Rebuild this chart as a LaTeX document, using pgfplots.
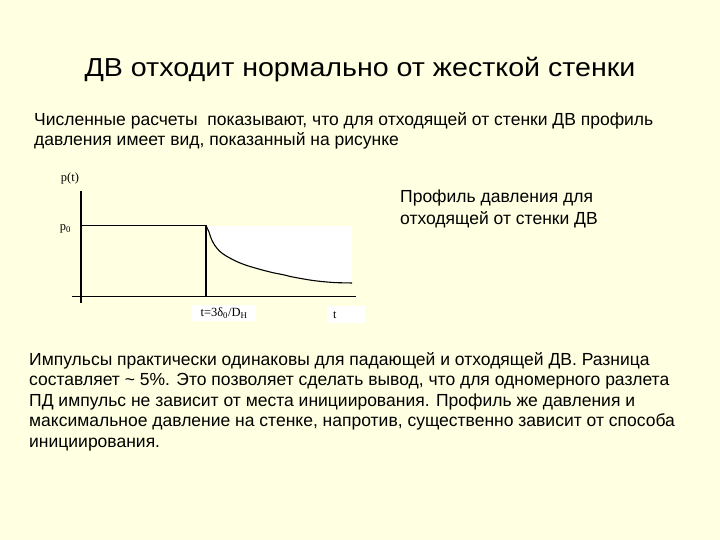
\documentclass[border=0pt]{standalone}
\usepackage{fontspec}
\setmainfont{Liberation Sans}
\newfontfamily\titlefont[FakeStretch=1.1]{Liberation Sans}
\newfontfamily\tnr{Liberation Serif}
\usepackage{pgfplots}
\usepackage{pgfplotstable}
\pgfplotsset{compat=1.18}
\definecolor{slide}{RGB}{255,255,225}

% decaying pressure after the step (t in units of 3*delta/D_H, p in units of p0)
\pgfplotstableread{
t      p
1.000  1.000
1.024  0.911
1.042  0.816
1.070  0.723
1.110  0.638
1.162  0.572
1.242  0.497
1.322  0.441
1.430  0.384
1.536  0.336
1.616  0.308
1.696  0.275
1.856  0.226
2.016  0.198
2.168  0.191
}\decay

\begin{document}
\begin{tikzpicture}
\fill[slide] (0,0) rectangle (720bp,540bp);

% slide text
\node[anchor=base, inner sep=0] at (360bp,463bp)
  {\titlefont\fontsize{26bp}{30bp}\selectfont ДВ отходит нормально от жесткой стенки};
\begin{scope}[every node/.style={anchor=base west, inner sep=0, font=\fontsize{17.5bp}{21bp}\selectfont}]
\node at (34bp,414.3bp) {Численные расчеты \ показывают, что для отходящей от стенки ДВ профиль};
\node at (34bp,394.5bp) {давления имеет вид, показанный на рисунке};
\node at (400bp,337bp) {Профиль давления для};
\node at (400bp,315bp) {отходящей от стенки ДВ};
\node at (29bp,174.5bp) {Импульсы практически одинаковы для падающей и отходящей ДВ. Разница};
\node at (29bp,154bp) {составляет \textasciitilde{} 5\%. Это позволяет сделать вывод, что для одномерного разлета};
\node at (29bp,133.5bp) {ПД импульс не зависит от места инициирования. Профиль же давления и};
\node at (29bp,113bp) {максимальное давление на стенке, напротив, существенно зависит от способа};
\node at (29bp,92.5bp) {инициирования.};
\end{scope}

\begin{axis}[
    at={(81bp,243.5bp)}, anchor=origin,
    x=125bp, y=70.8bp,
    xmin=-0.072, xmax=2.2,
    ymin=-0.092, ymax=1.494,
    hide axis,
    clip=false,
]
% white panel above the decay curve, slide colour below it
\addplot[fill=white, draw=none] coordinates {(1,1) (2.168,1)} \closedcycle;
\addplot[fill=slide, draw=none, smooth] table[x=t, y=p] {\decay} \closedcycle;

% axes
\addplot[black, line width=1.1bp] coordinates {(-0.072,0) (2.2,0)};
\addplot[black, line width=1.1bp] coordinates {(0,-0.092) (0,1.494)};

% constant pressure p0 up to the step, then the drop
\addplot[black, line width=1.1bp] coordinates {(0,1) (1,1) (1,0)};
\addplot[black, line width=1.1bp, smooth] table[x=t, y=p] {\decay};

\node[font=\tnr\fontsize{12.5bp}{14bp}\selectfont] at (axis cs:-0.088,1.66) {p(t)};
\node[font=\tnr\fontsize{12.5bp}{14bp}\selectfont] at (axis cs:-0.125,0.95) {p\textsubscript{0}};
\node[fill=white, inner sep=0, minimum width=64bp, minimum height=16bp,
      font=\tnr\fontsize{12.5bp}{14bp}\selectfont] at (axis cs:1.144,-0.233)
  {t=3δ\textsubscript{0}/D\textsubscript{H}};
\node[fill=white, inner xsep=0, inner ysep=0, text width=38bp, align=left,
      minimum height=17bp, anchor=west,
      font=\tnr\fontsize{12bp}{14bp}\selectfont] at (axis cs:1.968,-0.26)
  {\hspace*{6bp}t};
\end{axis}
\end{tikzpicture}
\end{document}
